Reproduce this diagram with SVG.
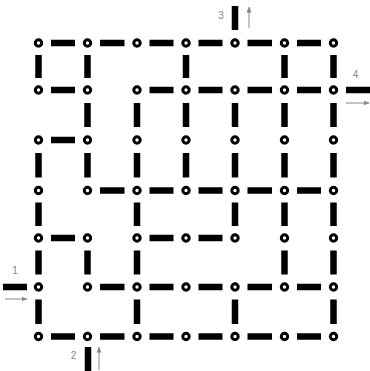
<svg xmlns="http://www.w3.org/2000/svg" width="370" height="371" viewBox="0 0 370 371">
<style>
.n{fill:#fff;stroke:#000;stroke-width:3}
.e{stroke:#000;stroke-width:6.5;stroke-linecap:butt}
.a{stroke:#888;stroke-width:1;fill:none}
.t{font-family:"Liberation Sans",Arial,sans-serif;font-size:10px;fill:#888}
</style>
<defs>
<marker id="ah" viewBox="0 0 6 6" refX="5.5" refY="3" markerWidth="6" markerHeight="6" markerUnits="userSpaceOnUse" orient="auto">
<path d="M0,0.5 L6,3 L0,5.5 Z" fill="#888"/>
</marker>
</defs>
<rect width="370" height="371" fill="#fff"/>
<g id="connectors">
<!-- row 0 horizontals -->
<line class="e" x1="51" y1="43" x2="75" y2="43"/>
<line class="e" x1="100" y1="43" x2="124.5" y2="43"/>
<line class="e" x1="149.5" y1="43" x2="173.5" y2="43"/>
<line class="e" x1="198.5" y1="43" x2="222.5" y2="43"/>
<line class="e" x1="247.5" y1="43" x2="272" y2="43"/>
<line class="e" x1="297" y1="43" x2="321" y2="43"/>
<!-- row 1 -->
<line class="e" x1="51" y1="90" x2="75" y2="90"/>
<line class="e" x1="149.5" y1="90" x2="173.5" y2="90"/>
<line class="e" x1="198.5" y1="90" x2="222.5" y2="90"/>
<line class="e" x1="247.5" y1="90" x2="272" y2="90"/>
<line class="e" x1="297" y1="90" x2="321" y2="90"/>
<!-- row 2 -->
<line class="e" x1="51" y1="140" x2="75" y2="140"/>
<!-- row 3 -->
<line class="e" x1="100" y1="190.5" x2="124.5" y2="190.5"/>
<line class="e" x1="149.5" y1="190.5" x2="173.5" y2="190.5"/>
<line class="e" x1="198.5" y1="190.5" x2="222.5" y2="190.5"/>
<line class="e" x1="247.5" y1="190.5" x2="272" y2="190.5"/>
<line class="e" x1="297" y1="190.5" x2="321" y2="190.5"/>
<!-- row 4 -->
<line class="e" x1="51" y1="238" x2="75" y2="238"/>
<line class="e" x1="149.5" y1="238" x2="173.5" y2="238"/>
<line class="e" x1="198.5" y1="238" x2="222.5" y2="238"/>
<!-- row 5 -->
<line class="e" x1="100" y1="287" x2="124.5" y2="287"/>
<line class="e" x1="149.5" y1="287" x2="173.5" y2="287"/>
<line class="e" x1="198.5" y1="287" x2="222.5" y2="287"/>
<line class="e" x1="247.5" y1="287" x2="272" y2="287"/>
<line class="e" x1="297" y1="287" x2="321" y2="287"/>
<!-- row 6 -->
<line class="e" x1="51" y1="336.5" x2="75" y2="336.5"/>
<line class="e" x1="100" y1="336.5" x2="124.5" y2="336.5"/>
<line class="e" x1="149.5" y1="336.5" x2="173.5" y2="336.5"/>
<line class="e" x1="198.5" y1="336.5" x2="222.5" y2="336.5"/>
<line class="e" x1="247.5" y1="336.5" x2="272" y2="336.5"/>
<line class="e" x1="297" y1="336.5" x2="321" y2="336.5"/>
<!-- verticals rows 0-1 -->
<line class="e" x1="38.5" y1="55" x2="38.5" y2="78"/>
<line class="e" x1="87.5" y1="55" x2="87.5" y2="78"/>
<line class="e" x1="186" y1="55" x2="186" y2="78"/>
<line class="e" x1="284.5" y1="55" x2="284.5" y2="78"/>
<line class="e" x1="333.5" y1="55" x2="333.5" y2="78"/>
<!-- rows 1-2 -->
<line class="e" x1="87.5" y1="103" x2="87.5" y2="127"/>
<line class="e" x1="137" y1="103" x2="137" y2="127"/>
<line class="e" x1="186" y1="103" x2="186" y2="127"/>
<line class="e" x1="235" y1="103" x2="235" y2="127"/>
<line class="e" x1="284.5" y1="103" x2="284.5" y2="127"/>
<line class="e" x1="333.5" y1="103" x2="333.5" y2="127"/>
<!-- rows 2-3 -->
<line class="e" x1="38.5" y1="153" x2="38.5" y2="177.5"/>
<line class="e" x1="87.5" y1="153" x2="87.5" y2="177.5"/>
<line class="e" x1="137" y1="153" x2="137" y2="177.5"/>
<line class="e" x1="186" y1="153" x2="186" y2="177.5"/>
<line class="e" x1="235" y1="153" x2="235" y2="177.5"/>
<line class="e" x1="284.5" y1="153" x2="284.5" y2="177.5"/>
<line class="e" x1="333.5" y1="153" x2="333.5" y2="177.5"/>
<!-- rows 3-4 -->
<line class="e" x1="38.5" y1="202.5" x2="38.5" y2="226"/>
<line class="e" x1="137" y1="202.5" x2="137" y2="226"/>
<line class="e" x1="235" y1="202.5" x2="235" y2="226"/>
<line class="e" x1="284.5" y1="202.5" x2="284.5" y2="226"/>
<line class="e" x1="333.5" y1="202.5" x2="333.5" y2="226"/>
<!-- rows 4-5 -->
<line class="e" x1="38.5" y1="250.5" x2="38.5" y2="274.5"/>
<line class="e" x1="87.5" y1="250.5" x2="87.5" y2="274.5"/>
<line class="e" x1="137" y1="250.5" x2="137" y2="274.5"/>
<line class="e" x1="284.5" y1="250.5" x2="284.5" y2="274.5"/>
<line class="e" x1="333.5" y1="250.5" x2="333.5" y2="274.5"/>
<!-- rows 5-6 -->
<line class="e" x1="38.5" y1="299.5" x2="38.5" y2="324"/>
<line class="e" x1="137" y1="299.5" x2="137" y2="324"/>
<line class="e" x1="235" y1="299.5" x2="235" y2="324"/>
<line class="e" x1="333.5" y1="299.5" x2="333.5" y2="324"/>
<!-- entrances -->
<line class="e" x1="3" y1="287" x2="27" y2="287"/>
<line class="e" x1="88" y1="347" x2="88" y2="371"/>
<line class="e" x1="235" y1="6" x2="235" y2="30"/>
<line class="e" x1="346" y1="90" x2="370" y2="90"/>
<line class="a" x1="5" y1="299" x2="27" y2="299" marker-end="url(#ah)"/>
<line class="a" x1="99" y1="370" x2="99" y2="347" marker-end="url(#ah)"/>
<line class="a" x1="249" y1="28" x2="249" y2="7" marker-end="url(#ah)"/>
<line class="a" x1="346" y1="103" x2="369" y2="103" marker-end="url(#ah)"/>
<text class="t" x="15" y="274" text-anchor="middle">1</text>
<text class="t" x="73.5" y="359" text-anchor="middle">2</text>
<text class="t" x="221" y="19" text-anchor="middle">3</text>
<text class="t" x="355.5" y="78" text-anchor="middle">4</text>
</g>
<g id="n0_0"><circle class="n" cx="38.5" cy="43" r="3.2"/></g>
<g id="n0_1"><circle class="n" cx="87.5" cy="43" r="3.2"/></g>
<g id="n0_2"><circle class="n" cx="137" cy="43" r="3.2"/></g>
<g id="n0_3"><circle class="n" cx="186" cy="43" r="3.2"/></g>
<g id="n0_4"><circle class="n" cx="235" cy="43" r="3.2"/></g>
<g id="n0_5"><circle class="n" cx="284.5" cy="43" r="3.2"/></g>
<g id="n0_6"><circle class="n" cx="333.5" cy="43" r="3.2"/></g>
<g id="n1_0"><circle class="n" cx="38.5" cy="90" r="3.2"/></g>
<g id="n1_1"><circle class="n" cx="87.5" cy="90" r="3.2"/></g>
<g id="n1_2"><circle class="n" cx="137" cy="90" r="3.2"/></g>
<g id="n1_3"><circle class="n" cx="186" cy="90" r="3.2"/></g>
<g id="n1_4"><circle class="n" cx="235" cy="90" r="3.2"/></g>
<g id="n1_5"><circle class="n" cx="284.5" cy="90" r="3.2"/></g>
<g id="n1_6"><circle class="n" cx="333.5" cy="90" r="3.2"/></g>
<g id="n2_0"><circle class="n" cx="38.5" cy="140" r="3.2"/></g>
<g id="n2_1"><circle class="n" cx="87.5" cy="140" r="3.2"/></g>
<g id="n2_2"><circle class="n" cx="137" cy="140" r="3.2"/></g>
<g id="n2_3"><circle class="n" cx="186" cy="140" r="3.2"/></g>
<g id="n2_4"><circle class="n" cx="235" cy="140" r="3.2"/></g>
<g id="n2_5"><circle class="n" cx="284.5" cy="140" r="3.2"/></g>
<g id="n2_6"><circle class="n" cx="333.5" cy="140" r="3.2"/></g>
<g id="n3_0"><circle class="n" cx="38.5" cy="190.5" r="3.2"/></g>
<g id="n3_1"><circle class="n" cx="87.5" cy="190.5" r="3.2"/></g>
<g id="n3_2"><circle class="n" cx="137" cy="190.5" r="3.2"/></g>
<g id="n3_3"><circle class="n" cx="186" cy="190.5" r="3.2"/></g>
<g id="n3_4"><circle class="n" cx="235" cy="190.5" r="3.2"/></g>
<g id="n3_5"><circle class="n" cx="284.5" cy="190.5" r="3.2"/></g>
<g id="n3_6"><circle class="n" cx="333.5" cy="190.5" r="3.2"/></g>
<g id="n4_0"><circle class="n" cx="38.5" cy="238" r="3.2"/></g>
<g id="n4_1"><circle class="n" cx="87.5" cy="238" r="3.2"/></g>
<g id="n4_2"><circle class="n" cx="137" cy="238" r="3.2"/></g>
<g id="n4_3"><circle class="n" cx="186" cy="238" r="3.2"/></g>
<g id="n4_4"><circle class="n" cx="235" cy="238" r="3.2"/></g>
<g id="n4_5"><circle class="n" cx="284.5" cy="238" r="3.2"/></g>
<g id="n4_6"><circle class="n" cx="333.5" cy="238" r="3.2"/></g>
<g id="n5_0"><circle class="n" cx="38.5" cy="287" r="3.2"/></g>
<g id="n5_1"><circle class="n" cx="87.5" cy="287" r="3.2"/></g>
<g id="n5_2"><circle class="n" cx="137" cy="287" r="3.2"/></g>
<g id="n5_3"><circle class="n" cx="186" cy="287" r="3.2"/></g>
<g id="n5_4"><circle class="n" cx="235" cy="287" r="3.2"/></g>
<g id="n5_5"><circle class="n" cx="284.5" cy="287" r="3.2"/></g>
<g id="n5_6"><circle class="n" cx="333.5" cy="287" r="3.2"/></g>
<g id="n6_0"><circle class="n" cx="38.5" cy="336.5" r="3.2"/></g>
<g id="n6_1"><circle class="n" cx="87.5" cy="336.5" r="3.2"/></g>
<g id="n6_2"><circle class="n" cx="137" cy="336.5" r="3.2"/></g>
<g id="n6_3"><circle class="n" cx="186" cy="336.5" r="3.2"/></g>
<g id="n6_4"><circle class="n" cx="235" cy="336.5" r="3.2"/></g>
<g id="n6_5"><circle class="n" cx="284.5" cy="336.5" r="3.2"/></g>
<g id="n6_6"><circle class="n" cx="333.5" cy="336.5" r="3.2"/></g>
</svg>
